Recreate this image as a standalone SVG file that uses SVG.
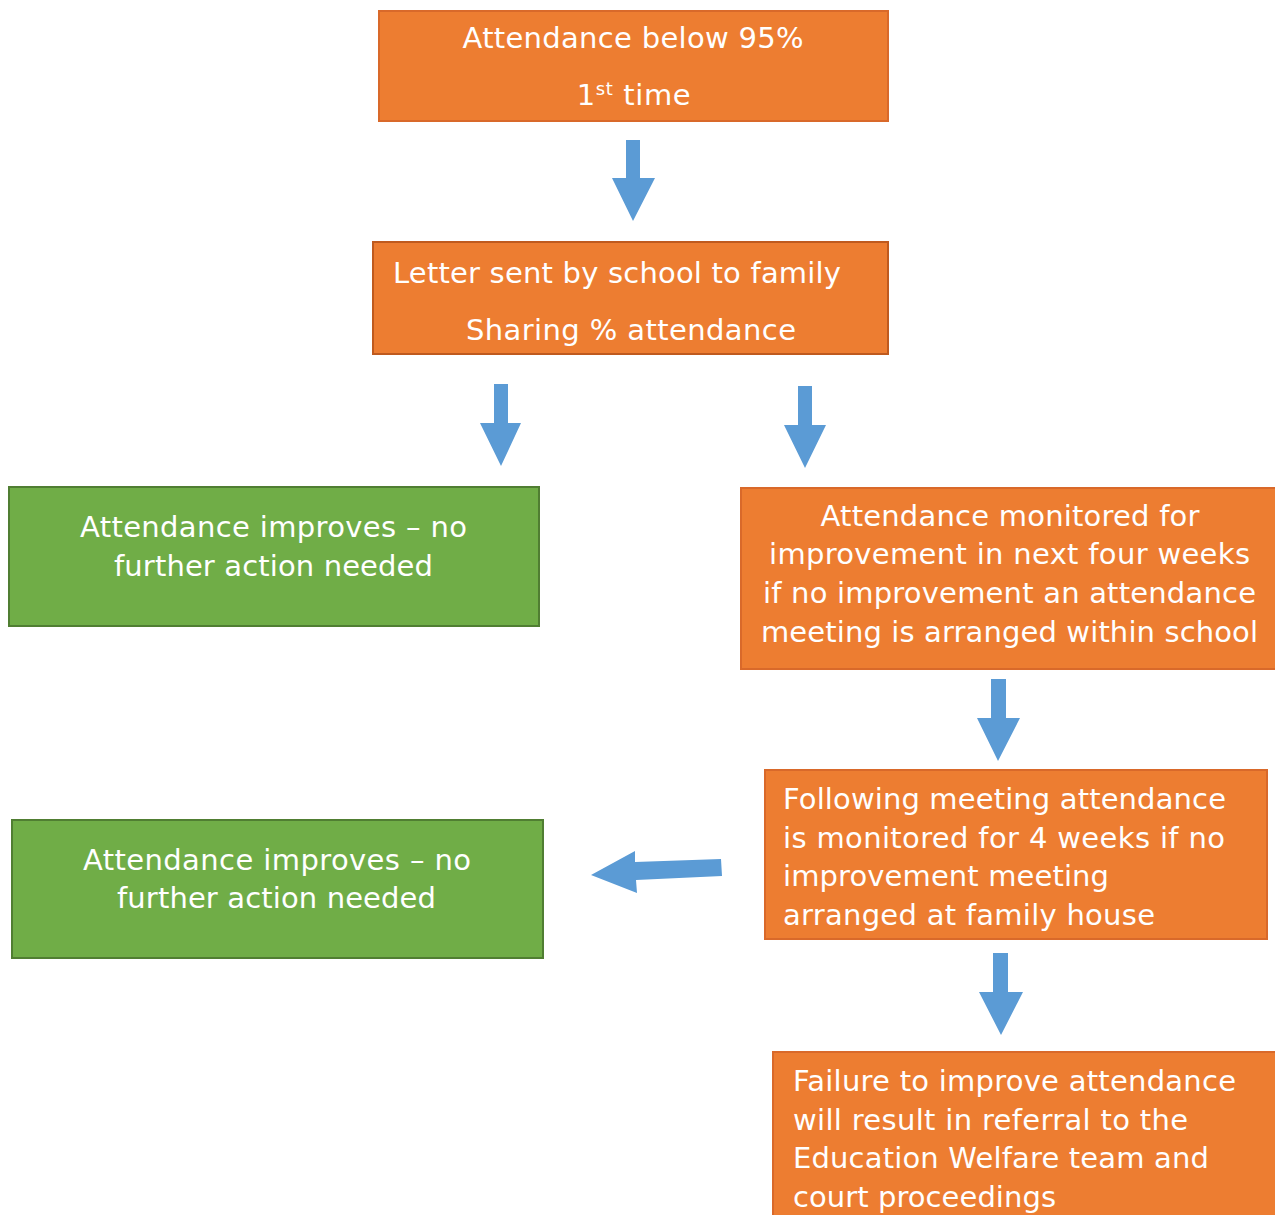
<svg xmlns="http://www.w3.org/2000/svg" width="1275" height="1215" viewBox="0 0 1275 1215">
<style>
.o{fill:#ED7D31;stroke:#D9692A;stroke-width:2}
.o2{fill:#ED7D31;stroke:#BF5A1E;stroke-width:2}
.g{fill:#70AD47;stroke:#507E32;stroke-width:2}
.t{font-family:"DejaVu Sans",Verdana,sans-serif;font-size:29px;fill:#FFFFFF}
.c{text-anchor:middle}
.a{fill:#5B9BD5}
</style>
<rect width="1275" height="1215" fill="#FFFFFF"/>
<g id="n1">
<rect class="o" x="379" y="11" width="509" height="110"/>
<text class="t c" x="633" y="48" textLength="341">Attendance below 95%</text>
<text class="t c" x="634" y="105" letter-spacing="0.6">1<tspan font-size="18" dy="-10">st</tspan><tspan dy="10"> time</tspan></text>
</g>
<g id="n2">
<rect class="o2" x="373" y="242" width="515" height="112"/>
<text class="t" x="393" y="283" textLength="448">Letter sent by school to family</text>
<text class="t c" x="631" y="340" textLength="330">Sharing % attendance</text>
</g>
<g id="n3">
<rect class="g" x="9" y="487" width="530" height="139"/>
<text class="t c" x="273.5" y="537" textLength="387">Attendance improves – no</text>
<text class="t c" x="273.5" y="576" textLength="319">further action needed</text>
</g>
<g id="n4">
<rect class="o" x="741" y="488" width="540" height="181"/>
<text class="t c" x="1010" y="526" textLength="379">Attendance monitored for</text>
<text class="t c" x="1009.5" y="564" textLength="481">improvement in next four weeks</text>
<text class="t c" x="1009.5" y="603" textLength="493">if no improvement an attendance</text>
<text class="t c" x="1009.5" y="642" textLength="497">meeting is arranged within school</text>
</g>
<g id="n5">
<rect class="o" x="765" y="770" width="502" height="169"/>
<text class="t" x="783" y="809" textLength="443">Following meeting attendance</text>
<text class="t" x="783" y="848" textLength="442">is monitored for 4 weeks if no</text>
<text class="t" x="783" y="886" textLength="326">improvement meeting</text>
<text class="t" x="783" y="925" textLength="372">arranged at family house</text>
</g>
<g id="n6">
<rect class="g" x="12" y="820" width="531" height="138"/>
<text class="t c" x="277" y="870" textLength="388">Attendance improves – no</text>
<text class="t c" x="276.5" y="908" textLength="319">further action needed</text>
</g>
<g id="n7">
<rect class="o" x="773" y="1052" width="510" height="175"/>
<text class="t" x="793" y="1091" textLength="443">Failure to improve attendance</text>
<text class="t" x="793" y="1130" textLength="395">will result in referral to the</text>
<text class="t" x="793" y="1168" textLength="416">Education Welfare team and</text>
<text class="t" x="793" y="1207" textLength="263">court proceedings</text>
</g>
<g id="connectors">
<polygon class="a" points="626,140 640,140 640,178 655,178 633,221 612,178 626,178"/>
<polygon class="a" points="494,384 508,384 508,423 521,423 501,466 480,423 494,423"/>
<polygon class="a" points="798,386 812,386 812,425 826,425 805,468 784,425 798,425"/>
<polygon class="a" points="991,679 1006,679 1006,718 1020,718 998,761 977,718 991,718"/>
<polygon class="a" points="993,953 1008,953 1008,992 1023,992 1001,1035 979,992 993,992"/>
<polygon class="a" points="721,859 722,876 636,880 637,893 591,875 635,851 635,862"/>
</g>
</svg>
